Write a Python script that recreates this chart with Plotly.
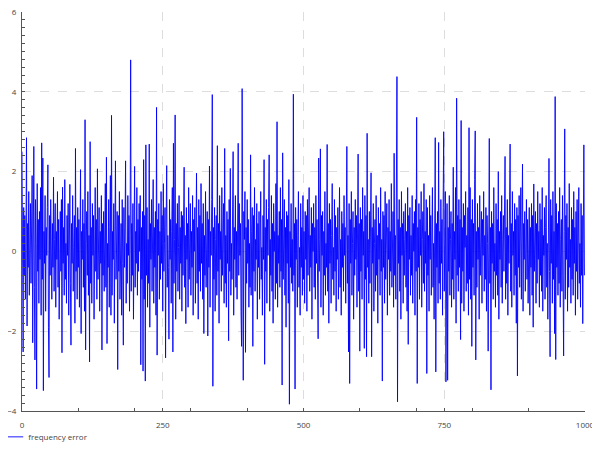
import plotly.graph_objects as go

# frequency error samples (20 values per row)
freq_error = [
    2.5, 0.3, -2.52, 1.1, -0.6, 0.9, -1.2, 0.2, 2.85, -1.87, 0.7, -0.4, 1.5, -1.1, 0.1, 1.2, -0.8, 0.6, 1.9, -2.29,  # 0
    0.4, 2.63, -0.9, -2.72, 1.3, 0.2, -3.45, 1.7, -0.5, 0.8, -1.3, 1.0, -0.2, 1.6, -1.6, 2.72, -0.7, 2.34, -3.49, 0.5,  # 20
    -0.3, 1.4, -1.5, 0.6, -0.1, 1.1, 2.17, -1.9, -3.16, 0.9, -0.6, 1.3, 0.0, -1.2, 0.7, -0.4, 1.86, -1.0, 0.3, 1.2,  # 40
    -1.4, 0.5, -0.2, 1.5, -0.9, 0.8, -1.7, 0.1, 1.0, -0.5, 1.3, -2.54, 1.61, -0.3, 0.6, -1.1, 1.8, -0.7, 0.2, -1.3,  # 60
    0.9, -0.1, 1.2, -1.6, 0.4, 1.68, -0.8, -2.35, 0.7, -0.3, 1.4, -1.0, 0.1, 0.9, -1.8, 2.58, -0.5, 0.6, -1.2, 1.1,  # 80
    -0.4, 0.8, -1.4, 0.3, 2.05, -2.06, 0.5, -0.2, 1.3, -0.9, 0.7, -1.5, 3.3, -2.47, 0.2, 1.0, -0.6, 1.5, -1.1, 0.4,  # 100
    -2.77, 2.75, -0.8, 0.6, -1.3, 1.2, -0.1, 0.9, -1.7, 0.3, 1.6, -0.5, 0.8, -1.2, 2.07, -0.7, 0.1, 1.1, -1.5, 0.5,  # 120
    -0.3, 1.4, -2.47, 0.7, -0.6, 1.0, -1.0, 0.4, 1.7, -0.9, 2.36, -2.31, 0.2, -0.4, 1.3, -1.4, 0.6, 1.9, -1.6, 3.41,  # 140
    -1.1, 0.5, -0.2, 1.2, -1.8, 0.8, 2.27, -0.7, 0.3, 1.0, -2.96, 0.9, -0.5, 1.5, -1.2, 0.1, 0.7, -1.6, 1.3, -0.3,  # 160
    -2.35, 1.1, -0.4, 0.6, 2.27, -1.3, 0.2, -0.8, 1.4, -0.1, 0.9, -1.5, 0.4, 4.8, -1.0, 0.7, -0.6, 1.2, -1.7, 0.3,  # 180
    2.13, -0.9, 0.5, -0.3, 1.6, -1.1, 0.8, -0.5, 1.2, 0.0, 1.4, -2.84, 0.6, -0.7, 1.0, -3.0, 2.3, -1.2, 0.9, -3.25,  # 200
    2.67, -0.6, 1.1, -1.4, 0.3, -0.8, 2.69, -1.9, 0.7, -0.2, 1.3, -1.0, 0.4, 1.8, -1.3, 0.6, -0.4, 1.0, -1.6, 3.61,  # 220
    -2.6, 0.8, -0.1, 1.2, -1.2, 0.5, -0.7, 1.5, -0.3, 0.9, -1.5, 1.7, -0.5, 0.2, 1.1, -2.67, 0.6, 2.15, -0.9, 0.4,  # 240
    -0.4, -2.2, 1.3, -0.2, 0.8, -1.3, 0.5, 1.6, -2.52, 2.71, -0.8, 0.3, 3.42, -1.7, 0.7, -0.5, 1.2, -1.0, 0.1, 1.4,  # 260
    -1.2, 0.6, -0.3, 1.0, -1.5, 0.9, -0.6, 1.5, 2.11, -0.9, 0.4, -1.81, 1.1, -0.2, 0.7, -1.4, 1.6, -0.7, 0.2, 1.2,  # 280
    -1.1, 0.5, -0.4, 1.4, -1.6, 0.8, 0.0, 1.1, -1.3, 0.3, 1.96, -0.8, 0.6, -1.7, 1.3, -0.5, 0.9, -1.0, 1.7, -0.3,  # 300
    0.7, -1.2, 1.2, -2.06, 0.4, -0.6, 1.5, -0.9, 0.2, 1.0, -2.12, 0.8, -0.4, 2.14, -1.4, 0.5, -0.1, 1.3, 3.93, -3.38,  # 320
    0.6, -0.7, 1.1, -1.5, 0.3, 0.9, -1.1, 2.65, -0.5, 0.7, -1.8, 1.4, -0.2, 0.5, -1.0, 1.6, -0.6, 0.1, 1.2, -1.3,  # 340
    2.58, -0.8, 0.4, -1.4, 1.0, -0.3, 0.8, -2.24, 1.3, -0.5, 2.08, -1.1, 0.2, -0.7, 1.1, 2.5, -1.6, 0.6, -0.2, 1.4,  # 360
    -0.9, 0.5, -1.2, 0.9, 2.71, -0.6, 1.2, -0.1, 0.7, -1.5, -2.38, 4.08, -0.4, -3.23, 1.0, 0.3, 1.5, -2.53, 0.6, -0.8,  # 380
    1.3, -0.3, 0.8, -1.4, 0.2, -0.9, 2.42, -1.1, 0.5, 1.1, -2.38, 0.9, -0.5, 1.6, -1.0, 0.3, -0.2, 1.2, -1.7, 0.7,  # 400
    -0.4, 1.0, -1.2, 0.4, 1.5, -0.7, 0.1, -1.6, 0.9, -0.2, 2.3, -2.83, 0.6, -0.5, 1.3, -1.3, 0.8, -0.1, 1.1, 2.42,  # 420
    -1.5, 0.3, -0.6, 1.4, -1.0, 0.7, -1.8, 1.2, 0.0, 0.5, -1.2, 1.7, -0.8, 3.25, -1.4, 0.4, -0.3, 1.0, -0.9, 1.6,  # 440
    -0.5, 0.8, -3.35, 2.47, -0.7, 0.2, 1.3, -1.1, 0.6, -1.9, 1.0, -0.3, 0.9, -1.3, 1.8, -3.83, 0.5, -0.4, 1.2, -0.8,  # 460
    0.3, -1.0, 3.94, -0.6, 0.7, -3.45, 1.1, -0.2, 0.8, -1.4, 0.4, 1.5, -0.9, 0.1, -1.6, 1.2, -0.4, 0.6, -1.1, 1.4,  # 480
    -0.7, 0.5, -1.3, 1.0, -0.2, 0.9, -1.5, 1.3, -0.6, 0.2, 1.6, -1.0, 0.4, -0.4, 1.1, -1.7, 0.7, 0.0, 1.2, -0.9,  # 500
    0.6, -1.2, 1.4, -0.3, 0.8, -0.8, -2.19, 2.34, -0.5, 0.3, 2.57, -1.4, 0.9, -0.1, 1.0, -1.6, 0.5, -0.6, 1.5, -1.1,  # 520
    0.2, -0.4, 2.68, -1.0, 0.7, -1.8, 1.2, -0.3, 0.8, -1.3, 0.4, 1.7, -0.7, 0.1, -1.1, 1.3, -0.5, 0.9, -1.5, 0.6,  # 540
    -0.2, 1.1, -1.2, 0.5, 1.6, -0.9, 0.3, -1.6, 1.0, -0.4, 0.7, -1.0, 1.4, -0.1, 0.6, -1.3, 0.9, 2.63, -0.8, 0.4,  # 560
    -2.52, 1.2, -3.31, 0.8, -0.3, 1.5, -1.1, 0.2, 1.0, -1.7, 0.6, -0.6, 1.3, -0.2, 0.9, -1.4, 0.4, 2.44, -1.0, 0.7,  # 580
    -2.5, 1.1, -0.5, 0.8, -1.2, 1.6, -0.1, 0.5, -2.43, 1.4, -0.7, 0.9, -2.64, 2.96, -0.4, 0.3, -1.3, 1.0, -0.8, 1.5,  # 600
    1.97, -2.64, 0.6, -0.3, 1.2, -1.5, 0.2, 0.8, -1.0, 1.4, -0.6, 0.4, -1.8, 1.1, -0.2, 0.7, -1.1, 1.6, -0.5, 0.3,  # 620
    -3.25, 1.0, -0.4, 0.9, -1.3, 1.5, -0.7, 0.1, 1.2, -1.6, 0.6, -0.2, 1.3, -1.1, 0.5, -0.5, 1.7, -0.9, 0.3, 1.0,  # 640
    -1.4, 2.46, -0.6, 0.4, -1.2, 1.1, 4.38, -3.77, 0.8, -0.3, 1.3, -1.0, 0.6, -1.7, 1.5, -0.1, 0.7, -1.3, 1.0, -0.6,  # 660
    0.3, 1.2, -0.9, 0.5, -1.5, 1.6, -2.33, 0.9, -0.2, 1.1, -1.1, 0.4, -0.6, 1.4, -1.3, 0.7, 0.0, 1.0, -1.6, 1.3,  # 680
    -0.5, 3.36, -3.31, 0.6, -0.4, 1.2, -1.2, 0.8, -0.1, 1.5, -1.4, 0.3, 1.0, -0.8, 1.7, -1.0, 0.5, -0.3, 1.3, -3.06,  # 700
    1.1, -0.6, 0.4, -1.5, 1.4, -0.2, 0.9, -1.1, 0.6, 1.6, -0.9, 0.2, -1.7, 1.2, 2.85, -3.02, 0.7, -0.4, 1.0, -1.3,  # 720
    2.73, -0.8, 0.5, -1.2, 1.3, -0.3, 0.8, -1.6, 1.1, 3.0, -1.0, 0.4, 1.5, -3.27, 0.9, 1.2, -3.23, 0.6, -0.5, 1.4,  # 740
    -1.1, 0.3, 1.0, -1.4, 0.7, -0.7, 2.11, -1.2, 0.5, -0.2, 1.6, -1.8, 3.84, -0.6, 0.9, -1.0, 1.3, -0.4, 0.8, -2.21,  # 760
    3.28, -1.3, 0.6, -0.5, 1.2, -1.5, 0.9, 0.1, 1.5, -1.0, 0.4, -0.8, 1.1, -1.6, 3.1, -0.7, 1.6, -1.2, 0.8, -2.38,  # 780
    1.3, -0.4, 0.7, -1.1, 1.8, 3.02, -2.72, 0.5, -0.9, 1.2, -0.2, 0.6, -1.7, 1.4, -0.6, 0.3, 1.0, -1.3, 0.8, -0.1,  # 800
    1.5, -1.0, 0.4, -0.7, 1.1, -1.5, 0.9, 0.2, -2.5, 1.3, 2.83, -0.8, 0.6, -3.47, 1.0, -0.3, 0.7, -1.2, 1.6, -0.5,  # 820
    0.2, -1.4, 1.2, -0.6, 0.8, -1.1, 2.0, -1.7, 0.5, -0.2, 1.0, -0.9, 1.4, -1.3, 0.3, 0.9, -0.5, 1.1, 2.38, -1.2,  # 840
    0.6, -0.8, 1.3, -1.6, 0.4, -0.3, 1.0, 2.69, -1.0, 0.7, -1.4, 1.5, -0.1, 0.5, -1.1, 1.2, -0.6, 0.8, -1.8, 1.1,  # 860
    -3.12, 0.9, -0.4, 1.4, -0.9, 0.3, 1.6, -1.2, 0.5, 2.19, -1.5, 0.7, -0.2, 1.0, -1.0, 0.4, 1.3, -0.7, 0.8, -1.3,  # 880
    0.2, 1.1, -1.6, 0.6, -0.4, 1.2, -1.1, 0.9, -1.9, 1.69, -0.5, 0.3, 1.0, -1.3, 0.7, -0.8, 1.5, -0.2, 0.5, -1.4,  # 900
    1.2, -0.6, 0.8, -1.0, 1.6, -1.5, 0.4, -0.1, 1.1, -1.2, 0.6, 1.4, -0.9, 0.2, -1.7, 1.0, 2.33, -0.5, -2.64, 1.3,  # 920
    -0.3, 0.9, -1.3, 1.5, -0.7, 0.5, -2.06, 3.88, -2.71, 1.2, -0.4, 0.7, -1.1, 1.0, -0.8, 1.6, -1.4, 0.3, 0.8, -1.0,  # 940
    1.4, -0.6, -2.62, 0.5, 3.07, -1.2, 0.9, -0.2, 1.2, -1.5, 0.6, -0.9, 1.7, -0.4, 0.3, -1.3, 1.1, -0.7, 0.8, -1.1,  # 960
    1.5, -0.3, 0.6, -1.6, 1.0, -0.5, 1.3, -1.2, 0.4, 1.6, -0.8, 0.2, -1.4, 1.2, -0.6, 0.9, -1.81, 1.1, 2.67, -0.6,  # 980
]
sample = list(range(len(freq_error)))

x_ticks = [0, 250, 500, 750, 1000]
y_ticks = [-4, -2, 0, 2, 4, 6]

fig = go.Figure()

fig.add_trace(go.Scatter(
    x=sample,
    y=freq_error,
    mode='lines',
    line=dict(color='#0000ff', width=0.9),
    name='frequency error'
))

axis_font = dict(family='Open Sans', size=8, color='#444444')

fig.update_layout(
    width=600,
    height=450,
    # page body adds 8px, so the plot box lands at 22..585 x 12..411
    margin=dict(l=14, r=23, t=4, b=47, autoexpand=False),
    plot_bgcolor='white',
    paper_bgcolor='white',
    showlegend=True,
    legend=dict(
        orientation='h',
        xref='paper', yref='container',
        x=-0.06, y=0.047,
        xanchor='left', yanchor='middle',
        font=dict(family='Open Sans', size=8, color='#444444'),
        bgcolor='rgba(0,0,0,0)'
    ),
    xaxis=dict(
        range=[0, 1000],
        tickvals=x_ticks,
        automargin=False,
        ticks='inside', ticklen=3, tickcolor='#555555',
        showline=True, linecolor='#555555', linewidth=1,
        showgrid=True, gridcolor='#dddddd', griddash='dash',
        zeroline=False,
        tickfont=axis_font,
        ticklabelstandoff=6,
        ticklabeloverflow='allow',
        minor=dict(dtick=100, ticks='inside', ticklen=3, tickcolor='#555555', showgrid=False)
    ),
    yaxis=dict(
        range=[-4, 6],
        tickvals=y_ticks,
        automargin=False,
        ticks='inside', ticklen=3, tickcolor='#555555',
        showline=True, linecolor='#555555', linewidth=1,
        showgrid=True, gridcolor='#dddddd', griddash='dash',
        zeroline=False,
        tickfont=axis_font,
        ticklabelstandoff=3,
        ticklabeloverflow='allow',
        minor=dict(dtick=0.2, ticks='inside', ticklen=3, tickcolor='#555555', showgrid=False)
    )
)

fig.write_html("out.html")
